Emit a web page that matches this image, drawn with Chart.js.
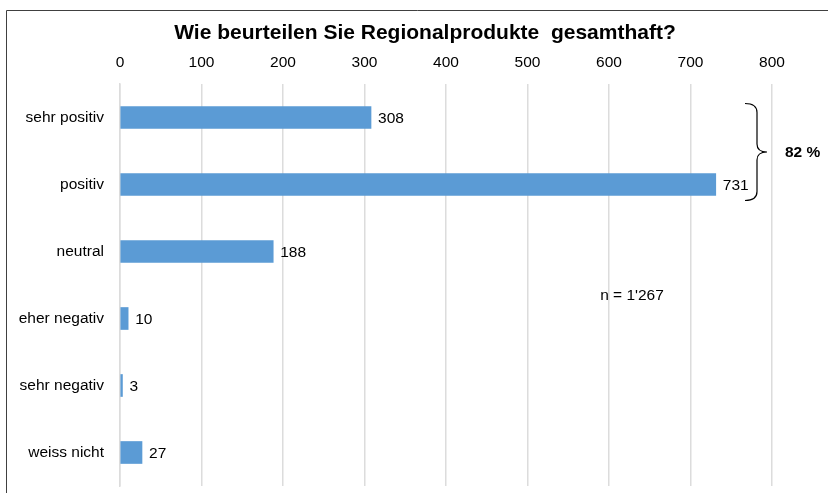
<!DOCTYPE html>
<html><head><meta charset="utf-8">
<script src="https://cdn.jsdelivr.net/npm/chart.js@4"></script>
<style>html,body{margin:0;padding:0;background:#fff}#wrap{width:828px;height:493px}</style>
</head><body><div id="wrap"><canvas id="c" width="828" height="493"></canvas></div>
<script>
const categories = ["sehr positiv", "positiv", "neutral", "eher negativ", "sehr negativ", "weiss nicht"];
const values = [308, 731, 188, 10, 3, 27];
const xTicks = [0, 100, 200, 300, 400, 500, 600, 700, 800];
const titleText = "Wie beurteilen Sie Regionalprodukte  gesamthaft?";
const bracketText = "82 %";
const nText = "n = 1'267";
const FONT = "'Liberation Sans', Arial, sans-serif";

const extras = {
  id: 'extras',
  afterDatasetsDraw(chart) {
    const ctx = chart.ctx, xs = chart.scales.x, ys = chart.scales.y, ca = chart.chartArea;
    ctx.save();
    // frame
    ctx.strokeStyle = '#404040'; ctx.lineWidth = 1;
    ctx.beginPath(); ctx.moveTo(6.5, 493); ctx.lineTo(6.5, 10.5); ctx.lineTo(828, 10.5); ctx.stroke();
    // title
    ctx.fillStyle = '#000'; ctx.font = "bold 21px " + FONT; ctx.textAlign = 'center'; ctx.textBaseline = 'middle';
    ctx.fillText(titleText, 425, 33);
    // value labels
    ctx.font = "15.5px " + FONT; ctx.textAlign = 'left';
    const meta = chart.getDatasetMeta(0);
    meta.data.forEach((bar, i) => {
      ctx.fillText(String(values[i]), bar.x + 7, bar.y + 1);
    });
    // bracket spanning first two categories
    const yTop = ys.getPixelForValue(0) - 14, yBot = ys.getPixelForValue(1) + 16;
    const yMid = (yTop + yBot) / 2;
    const x0 = ca.right - 27, x1 = ca.right - 15, xt = ca.right - 5;
    ctx.strokeStyle = '#000'; ctx.lineWidth = 1.2;
    ctx.beginPath();
    ctx.moveTo(x0, yTop);
    ctx.quadraticCurveTo(x1, yTop, x1, yTop + 9);
    ctx.lineTo(x1, yMid - 8);
    ctx.quadraticCurveTo(x1, yMid, xt, yMid);
    ctx.quadraticCurveTo(x1, yMid, x1, yMid + 8);
    ctx.lineTo(x1, yBot - 9);
    ctx.quadraticCurveTo(x1, yBot, x0, yBot);
    ctx.stroke();
    ctx.font = "bold 15.5px " + FONT;
    ctx.fillText(bracketText, ca.right + 13, yMid + 1);
    // n annotation
    ctx.font = "15.5px " + FONT; ctx.textAlign = 'center';
    ctx.fillText(nText, 632, 296);
    ctx.restore();
  }
};

new Chart(document.getElementById('c'), {
  type: 'bar',
  data: { labels: categories, datasets: [{ data: values, backgroundColor: '#5B9BD5', barThickness: 22 }] },
  options: {
    indexAxis: 'y', responsive: false, animation: false,
    layout: { padding: { left: 0, right: 56, top: 0, bottom: 7 } },
    plugins: { legend: { display: false }, tooltip: { enabled: false }, title: { display: false } },
    scales: {
      x: {
        position: 'top', min: 0, max: 800,
        afterBuildTicks(s) { s.ticks = xTicks.map(v => ({ value: v })); },
        afterFit(s) { s.height = 84; s.paddingLeft = 0; s.paddingRight = 0; },
        grid: { color: '#dcdcdc', lineWidth: 1.5, drawTicks: false },
        border: { display: false },
        ticks: { color: '#000', font: { family: FONT, size: 15.5 }, padding: 12 }
      },
      y: {
        afterFit(s) { s.width = 120; s.paddingTop = 0; s.paddingBottom = 0; },
        grid: { display: false },
        border: { display: true, color: '#dcdcdc', width: 1.5 },
        ticks: { color: '#000', font: { family: FONT, size: 15.5 }, padding: 8 }
      }
    }
  },
  plugins: [extras]
});
</script></body></html>
